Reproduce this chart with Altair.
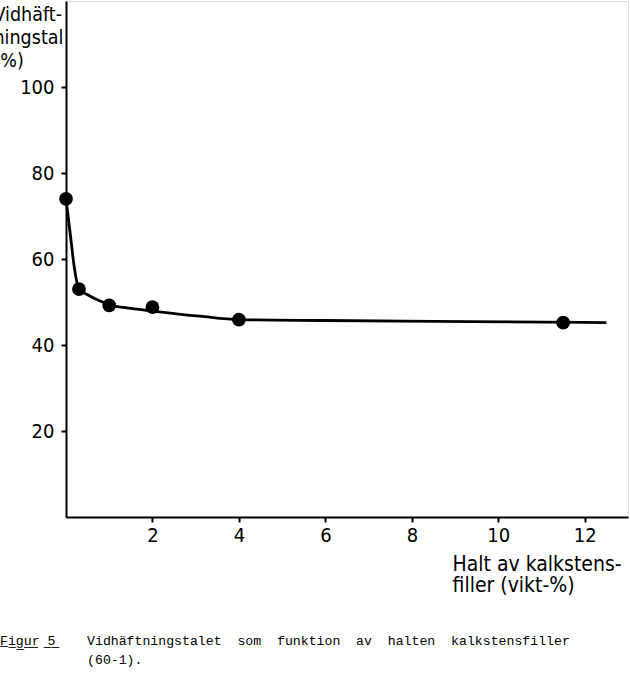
import altair as alt
import pandas as pd

# Measured points (filler content %, adhesion number %)
pt_x = [0, 0.3, 1, 2, 4, 11.5]
pt_y = [74, 53, 49.2, 48.8, 45.9, 45.2]

# Hand-drawn fitted curve
curve_x = [0, 0.1, 0.2, 0.3, 0.5, 0.75, 1, 1.5, 2, 3.1, 4, 6, 8.5, 12.5]
curve_y = [74, 65.7, 57.5, 53, 51.7, 50.4, 49.4, 48.5, 47.9, 46.7, 45.9, 45.7, 45.5, 45.2]

x_ticks = [2, 4, 6, 8, 10, 12]
y_ticks = [20, 40, 60, 80, 100]

x_title = ["Halt av kalkstens-", "filler (vikt-%)"]
y_title = ["Vidhäft-", "ningstal", "(%)"]

nb = "\u00a0"
zw = "\u200b"
fig_label = "".join(c + "\u0332" for c in "Figur" + nb + "5")
caption = [
    fig_label + nb * 4 + "Vidhäftningstalet" + nb * 2 + "som" + nb * 2 + "funktion" + nb * 2
    + "av" + nb * 2 + "halten" + nb * 2 + "kalkstensfiller",
    zw + nb * 11 + "(60-1).",
]

pts = pd.DataFrame({"x": pt_x, "y": pt_y})
crv = pd.DataFrame({"x": curve_x, "y": curve_y})

TFONT = "DejaVu Sans Condensed, DejaVu Sans, sans-serif"
LFONT = "DejaVu Sans Condensed, DejaVu Sans, sans-serif"

xscale = alt.Scale(domain=[0, 13], nice=False, zero=False)
yscale = alt.Scale(domain=[0, 120], nice=False, zero=False)

xaxis = alt.Axis(
    values=x_ticks, grid=False, title=x_title,
    domainColor="black", domainWidth=2,
    tickColor="black", tickWidth=2, tickSize=5,
    labelFont=LFONT, labelFontSize=20, labelColor="black", labelPadding=3,
    titleFont=TFONT, titleFontSize=21, titleFontWeight="normal", titleColor="black",
    titleAlign="left", titleAngle=0, titleX=386, titleY=53,
    titleBaseline="alphabetic", titleLineHeight=21,
)
yaxis = alt.Axis(
    values=y_ticks, grid=False, title=y_title,
    domainColor="black", domainWidth=2,
    tickColor="black", tickWidth=2, tickSize=5,
    labelFont=LFONT, labelFontSize=20, labelColor="black", labelPadding=7,
    titleFont=TFONT, titleFontSize=19.5, titleFontWeight="normal", titleColor="black",
    titleAlign="left", titleAngle=0, titleX=-73, titleY=19,
    titleBaseline="alphabetic", titleLineHeight=23,
)

line = alt.Chart(crv).mark_line(color="black", strokeWidth=2.8, interpolate="monotone", clip=False).encode(
    x=alt.X("x:Q", scale=xscale, axis=xaxis),
    y=alt.Y("y:Q", scale=yscale, axis=yaxis),
)
dots = alt.Chart(pts).mark_circle(color="black", opacity=1, size=190, clip=False).encode(
    x=alt.X("x:Q", scale=xscale),
    y=alt.Y("y:Q", scale=yscale),
)

chart = (
    alt.layer(line, dots)
    .properties(
        width=562, height=516,
        autosize=alt.AutoSizeParams(type="none"),
        padding={"left": 66, "top": 1, "right": 2, "bottom": 158},
        title=alt.TitleParams(
            text=caption, orient="bottom", anchor="start", frame="group",
            font="Liberation Mono, DejaVu Sans Mono, monospace", fontSize=13.2,
            fontWeight="normal", color="black", lineHeight=19, dx=-66, offset=40,
        ),
    )
    .configure_view(stroke="black", strokeWidth=2)
    .configure(background="white")
)

chart.save("out.html", embed_options={"renderer": "svg", "actions": False})
